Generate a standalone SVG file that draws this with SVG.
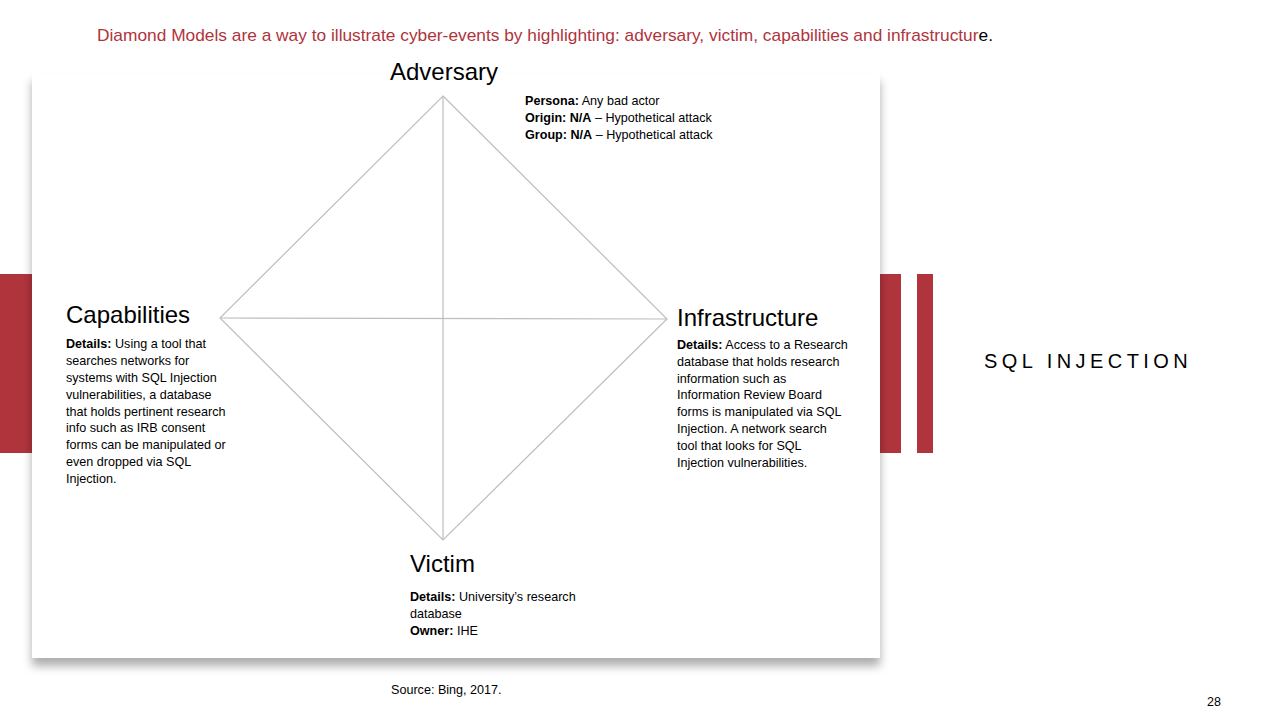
<svg xmlns="http://www.w3.org/2000/svg" width="1280" height="720" viewBox="0 0 1280 720">
  <style>
    .t { font-family: "Liberation Sans", Arial, sans-serif; fill: #000; }
    .head { font-size: 24px; }
    .body { font-size: 12.6px; }
    .b { font-weight: bold; }
    .edge { stroke: #bdbdbd; stroke-width: 1.2; fill: none; }
    .bar { fill: #b0343c; }
  </style>
  <defs>
    <filter id="shadow" x="-5%" y="-5%" width="110%" height="120%">
      <feDropShadow dx="0" dy="8" stdDeviation="5" flood-color="#000" flood-opacity="0.32"/>
    </filter>
  </defs>

  <rect width="1280" height="720" fill="#ffffff"/>

  <!-- accent bars -->
  <rect class="bar" x="0" y="274" width="40" height="179"/>
  <rect class="bar" x="880" y="274" width="21" height="179"/>
  <rect class="bar" x="917" y="274" width="16" height="179"/>

  <!-- heading -->
  <text class="t" x="97" y="41" font-size="16.2px" fill="#b0343c" textLength="896" lengthAdjust="spacingAndGlyphs"><tspan fill="#b0343c">Diamond Models are a way to illustrate cyber-events by highlighting: adversary, victim, capabilities and infrastructur</tspan><tspan fill="#000">e.</tspan></text>

  <!-- card -->
  <rect x="32" y="73" width="848" height="585" fill="#ffffff" filter="url(#shadow)"/>

  <!-- connectors -->
  <g id="connectors">
    <polygon class="edge" points="443,96 667,319 443,540 220,318"/>
    <line class="edge" x1="443" y1="96" x2="443" y2="540"/>
    <line class="edge" x1="220" y1="318" x2="667" y2="319"/>
  </g>

  <g id="adversary">
    <text class="t head" x="390" y="80">Adversary</text>
    <text class="t body" x="525" y="105"><tspan class="b">Persona:</tspan> Any bad actor</text>
    <text class="t body" x="525" y="122"><tspan class="b">Origin: N/A</tspan> – Hypothetical attack</text>
    <text class="t body" x="525" y="139"><tspan class="b">Group: N/A</tspan> – Hypothetical attack</text>
  </g>

  <g id="capabilities">
    <text class="t head" x="66" y="323">Capabilities</text>
    <text class="t body" x="66" y="348"><tspan class="b">Details:</tspan> Using a tool that</text>
    <text class="t body" x="66" y="365">searches networks for</text>
    <text class="t body" x="66" y="382">systems with SQL Injection</text>
    <text class="t body" x="66" y="399">vulnerabilities, a database</text>
    <text class="t body" x="66" y="416">that holds pertinent research</text>
    <text class="t body" x="66" y="432">info such as IRB consent</text>
    <text class="t body" x="66" y="449">forms can be manipulated or</text>
    <text class="t body" x="66" y="466">even dropped via SQL</text>
    <text class="t body" x="66" y="483">Injection.</text>
  </g>

  <g id="infrastructure">
    <text class="t head" x="677" y="326">Infrastructure</text>
    <text class="t body" x="677" y="349"><tspan class="b">Details:</tspan> Access to a Research</text>
    <text class="t body" x="677" y="366">database that holds research</text>
    <text class="t body" x="677" y="383">information such as</text>
    <text class="t body" x="677" y="399">Information Review Board</text>
    <text class="t body" x="677" y="416">forms is manipulated via SQL</text>
    <text class="t body" x="677" y="433">Injection. A network search</text>
    <text class="t body" x="677" y="450">tool that looks for SQL</text>
    <text class="t body" x="677" y="467">Injection vulnerabilities.</text>
  </g>

  <g id="victim">
    <text class="t head" x="410" y="572">Victim</text>
    <text class="t body" x="410" y="601"><tspan class="b">Details:</tspan> University’s research</text>
    <text class="t body" x="410" y="618">database</text>
    <text class="t body" x="410" y="635"><tspan class="b">Owner:</tspan> IHE</text>
  </g>

  <!-- side title, source and page number -->
  <text class="t" x="984" y="368" font-size="20px" fill="#333" letter-spacing="4.2" font-weight="300" textLength="208">SQL INJECTION</text>
  <text class="t" x="391" y="694" font-size="12.6px">Source: Bing, 2017.</text>
  <text class="t" x="1207" y="706" font-size="12.5px" fill="#999">28</text>
</svg>
